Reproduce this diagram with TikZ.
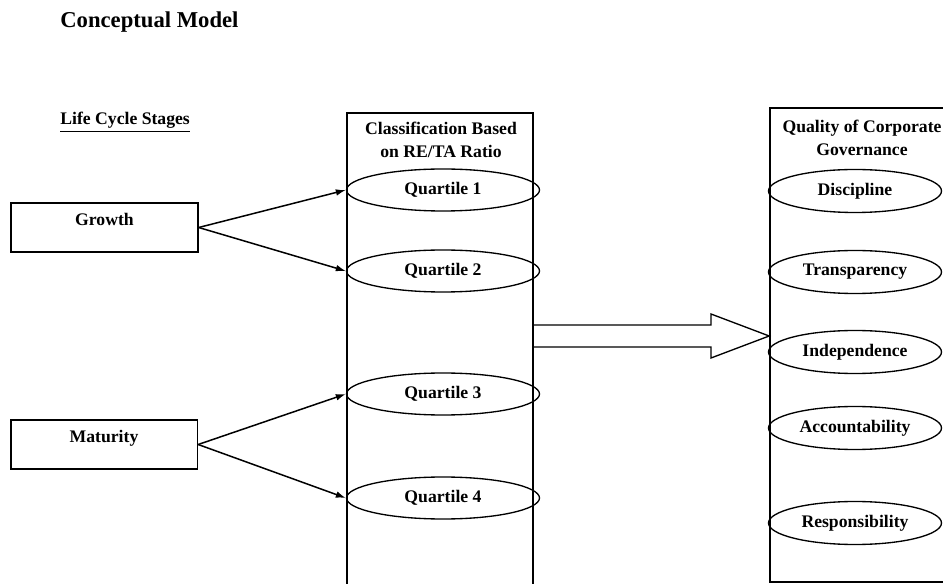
\documentclass[tikz,border=0pt]{standalone}
\usepackage{fontspec}
\setmainfont{Liberation Serif}
\usetikzlibrary{arrows.meta,shapes.geometric}

\tikzset{
  stage/.style={draw,line width=1pt,minimum width=112pt,minimum height=29.4pt,
    text height=7pt,text depth=9pt,inner sep=0pt},
  column/.style={draw,line width=1pt,inner sep=0pt},
  quart/.style={draw,ellipse,line width=0.8pt,minimum width=115.8pt,
    minimum height=25.2pt,inner sep=0pt},
  cgq/.style={draw,ellipse,line width=0.8pt,minimum width=103.8pt,
    minimum height=25.8pt,inner sep=0pt},
  link/.style={line width=0.9pt,-{Latex[length=6pt,width=4pt]}}
}

\begin{document}
\begin{tikzpicture}[x=0.6pt,y=-0.6pt,font=\fontsize{10.6}{13.8}\selectfont\bfseries]
   \useasboundingbox (0,0) rectangle (943,584);
   \clip (0,0) rectangle (943,584);

   %% Titel
   \node[anchor=base west,inner sep=0pt,font=\fontsize{13.6}{16}\selectfont\bfseries] (title) at (60,28) {Conceptual Model};
   \node[anchor=base west,inner sep=0pt] (stages) at (60,125) {\underline{Life Cycle Stages}};

   %% Lebenszyklus
   \node[stage] (growth) at (104.5,227.5) {Growth};
   \node[stage] (maturity) at (104,444.5) {Maturity};

   %% Klassifikation
   \node[column,minimum width=111.6pt,minimum height=292.2pt] (class) at (440,356.5) {};
   \node[align=center] (classhead) at (441,140) {Classification Based\\on RE/TA Ratio};
   \node[quart] (q1) at (443,190) {Quartile 1};
   \node[quart] (q2) at (443,271) {Quartile 2};
   \node[quart] (q3) at (443,394) {Quartile 3};
   \node[quart] (q4) at (443,498) {Quartile 4};

   %% Governance
   \node[column,minimum width=111pt,minimum height=284.4pt] (quality) at (862.5,345) {};
   \node[align=center] (qualityhead) at (862,138) {Quality of Corporate\\Governance};
   \node[cgq] (discipline) at (855,191) {Discipline};
   \node[cgq] (transparency) at (855,272) {Transparency};
   \node[cgq] (independence) at (855,352) {Independence};
   \node[cgq] (accountability) at (855,428) {Accountability};
   \node[cgq] (responsibility) at (855,523) {Responsibility};

   %% Pfeile
   \draw[link] (growth.east) -- (q1.west);
   \draw[link] (growth.east) -- (q2.west);
   \draw[link] (maturity.east) -- (q3.west);
   \draw[link] (maturity.east) -- (q4.west);

   %% Blockpfeil
   \draw[line width=0.8pt] (class.east |- 0,325) -- (711,325) -- (711,314)
      -- (quality.west |- 0,336) -- (711,358) -- (711,347) -- (class.east |- 0,347);
\end{tikzpicture}
\end{document}
